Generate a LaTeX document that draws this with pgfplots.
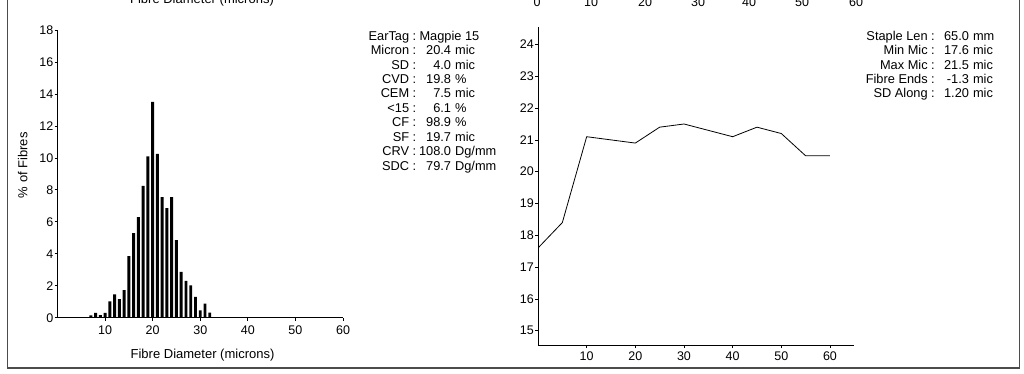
\documentclass[border=0pt]{standalone}
\usepackage{fontspec}
\setmainfont{Liberation Sans}
\usepackage{pgfplots}
\pgfplotsset{compat=1.18}
\newcommand{\fs}{\fontsize{12.8}{14.4}\selectfont}
\begin{document}
\begin{tikzpicture}[x=1pt,y=1pt]
\useasboundingbox (0pt,0pt) rectangle (1024pt,373pt);
% page frame
\draw[gray!60!black, line width=1.3pt] (7.3pt,385pt) -- (7.3pt,5pt) -- (1019.5pt,5pt) -- (1019.5pt,385pt);
% remnants of the charts above (cut off by the page)
\node[anchor=base, inner sep=0, font=\fontsize{13}{15}\selectfont] at (202pt,369pt) {Fibre Diameter (microns)};
\foreach \v/\px in {0/537,10/591,20/645,30/698,40/749,50/802,60/856}
  \node[anchor=base, inner sep=0, font=\fontsize{12.5}{14}\selectfont] at (\px pt,366pt) {\v};

% ---------- histogram ----------
\begin{axis}[
  at={(57.5pt,55.3pt)}, anchor=south west, scale only axis,
  width=285.5pt, height=287.7pt,
  xmin=0, xmax=60, ymin=0, ymax=18,
  axis x line*=bottom, axis y line*=left,
  axis line style={-, black, line width=0.8pt},
  xtick={10,20,...,60}, ytick={0,2,...,18},
  tick align=outside, major tick length=3pt,
  tick style={black, line width=0.7pt},
  /pgf/number format/assume math mode=true,
  ticklabel style={font=\fontsize{12.5}{14}\selectfont},
  yticklabel style={inner sep=1pt},
  xticklabel style={inner sep=1pt, yshift=-4pt},
  xlabel={Fibre Diameter (microns)},
  ylabel={\% of Fibres},
  label style={font=\fontsize{13}{15}\selectfont},
  xlabel style={at={(axis description cs:0.508,-0.13)}, anchor=center},
  ylabel style={at={(axis description cs:-0.122,0.53)}, anchor=center},
]
\addplot[ybar, bar width=0.62, fill=black, draw=none] coordinates {
(7,0.15) (8,0.3) (9,0.16) (10,0.3) (11,1.02) (12,1.46) (13,1.17) (14,1.72)
(15,3.85) (16,5.29) (17,6.29) (18,8.25) (19,10.1) (20,13.5) (21,10.25)
(22,7.55) (23,6.85) (24,7.55) (25,4.85) (26,2.87) (27,2.31) (28,2.02)
(29,1.31) (30,0.46) (31,0.88) (32,0.32)
};
\end{axis}

% ---------- staple profile ----------
\begin{axis}[
  at={(538pt,28pt)}, anchor=south west, scale only axis,
  width=316.3pt, height=318pt,
  xmin=0, xmax=65, ymin=14.55, ymax=24.55,
  axis x line*=bottom, axis y line*=left,
  axis line style={-, black, line width=0.8pt},
  xtick={10,20,...,60}, ytick={15,16,...,24},
  tick align=outside, major tick length=3pt,
  tick style={black, line width=0.7pt},
  /pgf/number format/assume math mode=true,
  ticklabel style={font=\fontsize{12.5}{14}\selectfont},
  yticklabel style={inner sep=1pt},
  xticklabel style={inner sep=1pt, yshift=-3pt},
]
\addplot[black, line width=0.8pt, mark=none] coordinates {
(0,17.6) (5,18.4) (10,21.1) (15,21.0) (20,20.9) (25,21.4) (30,21.5)
(35,21.3) (40,21.1) (45,21.4) (50,21.2) (55,20.5) (60,20.5)
};
\end{axis}

% ---------- statistics: left block ----------
\node[anchor=base east, inner sep=0, font=\fs] at (416.5pt,332.8pt) {EarTag :};
\node[anchor=base west, inner sep=0, font=\fs] at (419.3pt,332.8pt) {Magpie 15};
\foreach \lab/\num/\unit [count=\i] in {Micron/20.4/mic, SD/4.0/mic, CVD/19.8/\%, CEM/7.5/mic, <15/6.1/\%, CF/98.9/\%, SF/19.7/mic, CRV/108.0/{Dg/mm}, SDC/79.7/{Dg/mm}}{
  \pgfmathsetmacro{\yy}{332.8-14.44*\i}
  \node[anchor=base east, inner sep=0, font=\fs] at (416.5pt,\yy pt) {\lab\ :};
  \node[anchor=base east, inner sep=0, font=\fs] at (451.3pt,\yy pt) {\num};
  \node[anchor=base west, inner sep=0, font=\fs] at (454.9pt,\yy pt) {\unit};
}
% ---------- statistics: right block ----------
\foreach \lab/\num/\unit [count=\i from 0] in {Staple Len/65.0/mm, Min Mic/17.6/mic, Max Mic/21.5/mic, Fibre Ends/-1.3/mic, SD Along/1.20/mic}{
  \pgfmathsetmacro{\yy}{332.8-14.44*\i}
  \node[anchor=base east, inner sep=0, font=\fs] at (935pt,\yy pt) {\lab\ :};
  \node[anchor=base east, inner sep=0, font=\fs] at (969.2pt,\yy pt) {\num};
  \node[anchor=base west, inner sep=0, font=\fs] at (972.8pt,\yy pt) {\unit};
}
\end{tikzpicture}
\end{document}
